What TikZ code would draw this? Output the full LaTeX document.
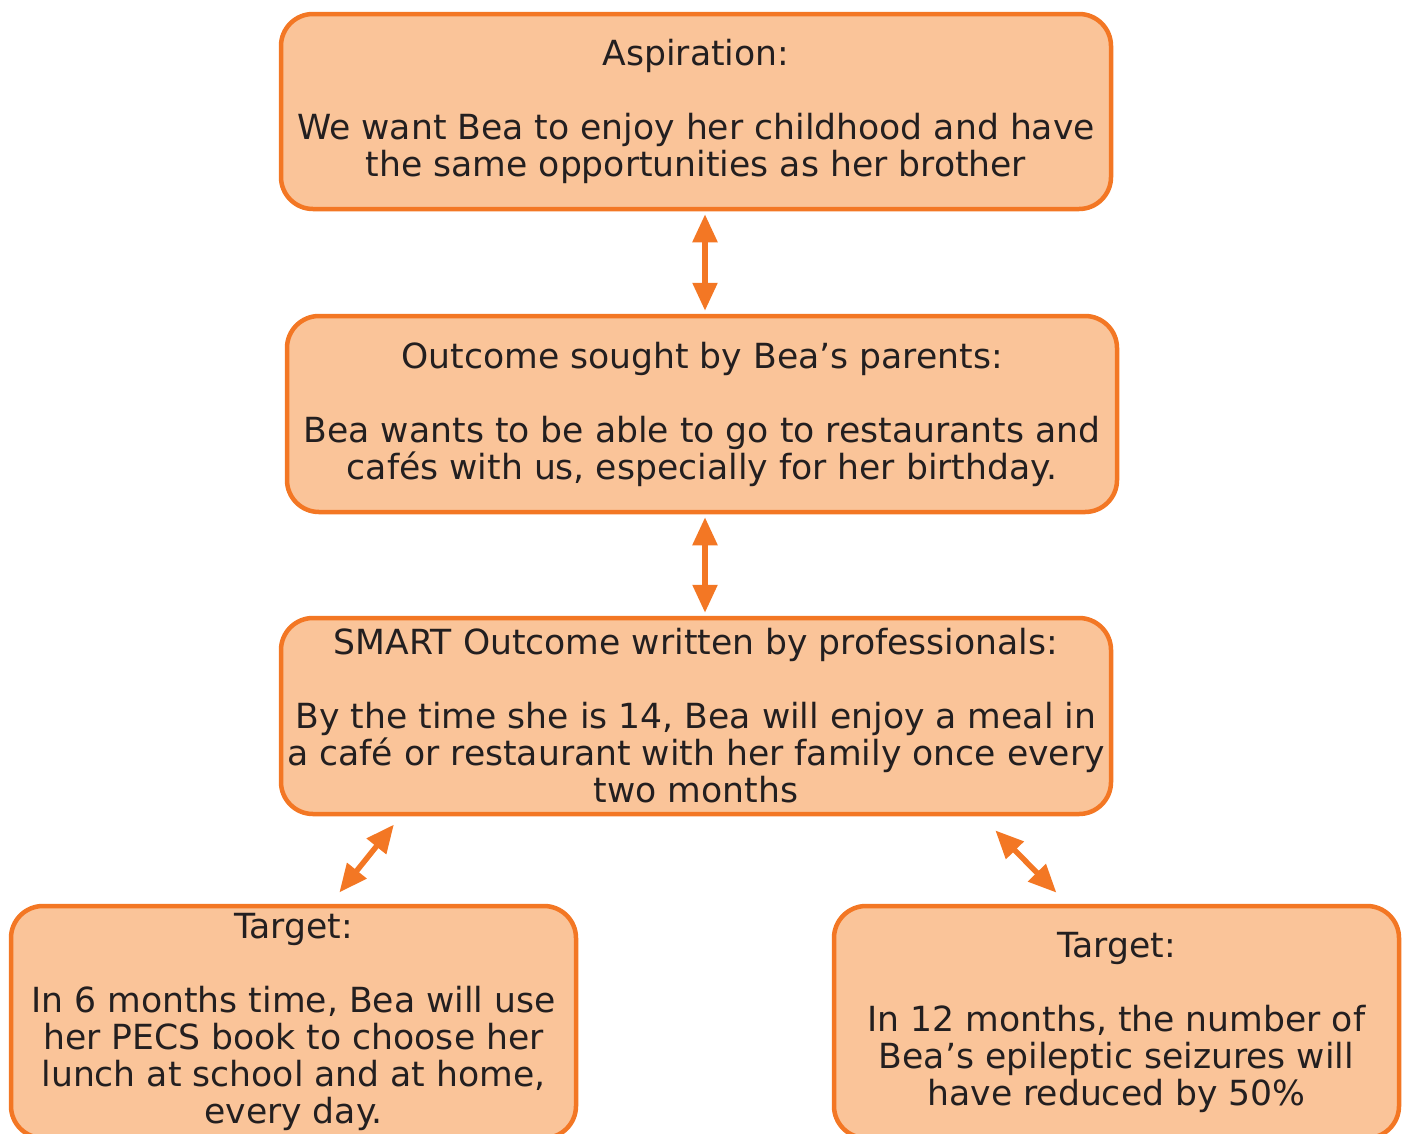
\documentclass[tikz,border=0pt]{standalone}
\usepackage{fontspec}
\setmainfont{DejaVu Sans}
\usetikzlibrary{arrows.meta}
\definecolor{boxfill}{RGB}{250,196,153}
\definecolor{boxline}{RGB}{243,119,36}
\definecolor{txt}{RGB}{35,31,32}

\begin{document}
\begin{tikzpicture}[x=1pt,y=-1pt,
    box/.style={draw=boxline, fill=boxfill, line width=4.5pt, rounded corners=32pt,
      align=center, text=txt, inner sep=0pt, font=\fontsize{34.6}{37}\selectfont},
    link/.style={boxline, line width=5.5pt, shorten <=3pt, shorten >=3pt,
      {Triangle[length=28pt,width=24pt]}-{Triangle[length=28pt,width=24pt]}}]
    \useasboundingbox (0,0) rectangle (1407,1133);

    \node[box, minimum width=830pt, minimum height=195pt] (asp) at (696,111.5)
      {Aspiration:\\[37pt]We want Bea to enjoy her childhood and have\\the same opportunities as her brother};
    \node[box, minimum width=830pt, minimum height=196pt] (outc) at (702,414)
      {Outcome sought by Bea’s parents:\\[37pt]Bea wants to be able to go to restaurants and\\cafés with us, especially for her birthday.};
    \node[box, minimum width=830pt, minimum height=196pt] (smart) at (696,716)
      {SMART Outcome written by professionals:\\[37pt]By the time she is 14, Bea will enjoy a meal in\\a café or restaurant with her family once every\\two months};
    \node[box, minimum width=565pt, minimum height=232pt] (tgtA) at (293.5,1022)
      {Target:\\[37pt]In 6 months time, Bea will use\\her PECS book to choose her\\lunch at school and at home,\\every day.};
    \node[box, minimum width=565pt, minimum height=232pt] (tgtB) at (1116.5,1022)
      {Target:\\[37pt]In 12 months, the number of\\Bea’s epileptic seizures will\\have reduced by 50\%};

    \draw[link] ([xshift=9pt]asp.south) -- ([xshift=3pt]outc.north);
    \draw[link] ([xshift=3pt]outc.south) -- ([xshift=9pt]smart.north);
    \draw[link] ([xshift=117pt,yshift=-6pt]smart.south west) -- ([xshift=44pt,yshift=9pt]tgtA.north);
    \draw[link] ([xshift=-120pt,yshift=-12pt]smart.south east) -- ([xshift=-58pt,yshift=9pt]tgtB.north);
\end{tikzpicture}
\end{document}
